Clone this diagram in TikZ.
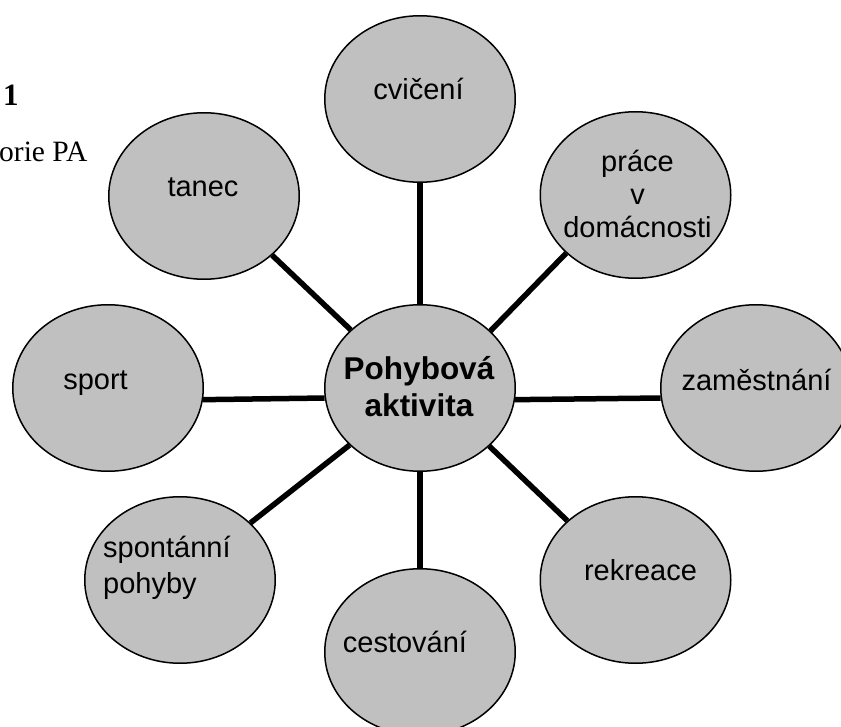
\documentclass[tikz,border=0pt]{standalone}
\usepackage{fontspec}
\setmainfont{Liberation Sans}
\newfontfamily\pagefont{Liberation Serif}
\usetikzlibrary{shapes.geometric}
\definecolor{bubblegray}{RGB}{192,192,192}

\tikzset{
  bubble/.style={ellipse, draw=black, line width=1.5pt, fill=bubblegray,
    minimum width=190.5pt, minimum height=166.5pt, inner sep=0pt},
  link/.style={line width=5.5pt},
  word/.style={inner sep=0pt, anchor=base, font=\fontsize{29}{33}\selectfont},
  hubword/.style={inner sep=0pt, anchor=base, align=center,
    font=\bfseries\fontsize{31.5}{37.5}\selectfont},
  pageword/.style={inner sep=0pt, anchor=base west}
}

\begin{document}
\begin{tikzpicture}[x=1pt, y=-1pt]
  \useasboundingbox (0,0) rectangle (841,727);
  \clip (0,0) rectangle (841,727);

  % cut text of the page
  \node[pageword, font=\pagefont\bfseries\fontsize{31}{36}\selectfont] (pagenum) at (3,106) {1};
  \node[pageword, font=\pagefont\fontsize{29.5}{34}\selectfont] (pagecap) at (-1,162) {orie PA};

  % bubbles
  \node[bubble] (hub) at (420,388) {};
  \node[bubble] (cviceni) at (420,99) {};
  \node[bubble] (prace) at (635.5,195) {};
  \node[bubble] (zamest) at (756,388) {};
  \node[bubble] (rekreace) at (635.5,580) {};
  \node[bubble] (cestovani) at (420,652) {};
  \node[bubble] (spontan) at (180,580) {};
  \node[bubble] (sport) at (108,388) {};
  \node[bubble] (tanec) at (204,196) {};

  % spokes
  \draw[link] (hub.90) -- (cviceni.270);
  \draw[link] (hub.39.9) -- (prace.220.5);
  \draw[link] (hub.353.5) -- (zamest.186.5);
  \draw[link] (hub.320.1) -- (rekreace.139.9);
  \draw[link] (hub.270) -- (cestovani.90);
  \draw[link] (hub.219.8) -- (spontan.39.9);
  \draw[link] (hub.186.5) -- (sport.353.5);
  \draw[link] (hub.140.2) -- (tanec.319.8);

  % labels (multi-line ones sit on their last baseline)
  \node[hubword] (hub-txt) at (419,417) {Pohybová\\aktivita};
  \node[word] (cviceni-txt) at (418.5,100) {cvičení};
  \node[word, align=center] (prace-txt) at (637.5,238) {práce\\v\\domácnosti};
  \node[word] (zamest-txt) at (756.5,390) {zaměstnání};
  \node[word] (rekreace-txt) at (640.5,580.5) {rekreace};
  \node[word] (cestovani-txt) at (405,652.5) {cestování};
  \node[word, anchor=base west, align=left, font=\fontsize{29}{36}\selectfont] (spontan-txt) at (103,593) {spontánní\\pohyby};
  \node[word] (sport-txt) at (95.5,389) {sport};
  \node[word] (tanec-txt) at (203,196.5) {tanec};
\end{tikzpicture}
\end{document}
